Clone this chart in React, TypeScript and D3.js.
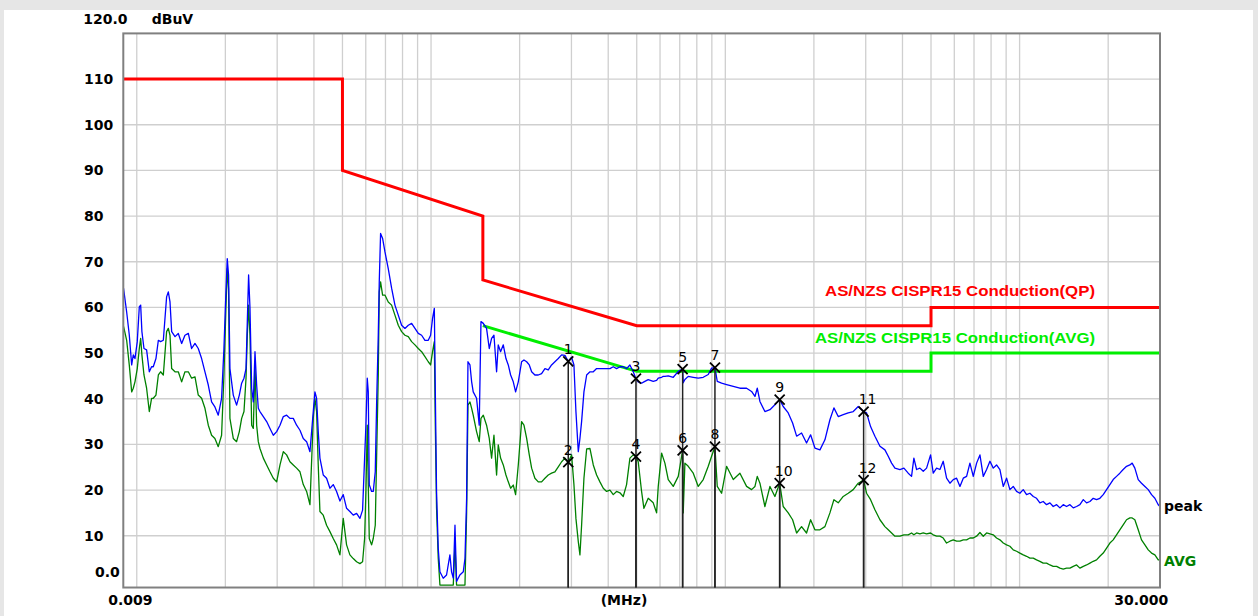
import React from "react";
import * as d3 from "d3";

// Sweep frequencies (MHz) shared by both detector traces
const FREQ: number[] = [
  0.009, 0.00905, 0.00924, 0.00943, 0.00961, 0.00973, 0.00986, 0.01004, 0.0102, 0.01031,
  0.01041, 0.01058, 0.0108, 0.01103, 0.01123, 0.01138, 0.01162, 0.01184, 0.01205, 0.01231,
  0.01263, 0.0128, 0.01297, 0.01314, 0.01349, 0.01384, 0.01421, 0.01458, 0.01497, 0.01536,
  0.01577, 0.01618, 0.01661, 0.01705, 0.0175, 0.01796, 0.01843, 0.01892, 0.01942, 0.01978,
  0.02009, 0.0203, 0.02051, 0.02073, 0.02128, 0.02184, 0.02231, 0.02272, 0.02314, 0.02351,
  0.02375, 0.02399, 0.02425, 0.02457, 0.02489, 0.02522, 0.02555, 0.02588, 0.02622, 0.02692,
  0.02763, 0.02836, 0.02911, 0.02988, 0.03067, 0.03148, 0.0323, 0.03316, 0.03403, 0.03493,
  0.03586, 0.0368, 0.03777, 0.03877, 0.03979, 0.04031, 0.04084, 0.04137, 0.04192, 0.04302,
  0.04416, 0.04533, 0.04652, 0.04775, 0.04902, 0.05031, 0.05164, 0.053, 0.05441, 0.05585,
  0.05732, 0.05853, 0.05946, 0.06008, 0.06071, 0.06119, 0.06167, 0.06281, 0.06363, 0.06463,
  0.06531, 0.06617, 0.06669, 0.06738, 0.06845,
  0.0697, 0.07155, 0.07345, 0.07539, 0.07738, 0.07943, 0.08153, 0.08369, 0.0859, 0.08818,
  0.0905, 0.09289, 0.09535, 0.09786, 0.09966, 0.1012, 0.1026, 0.1034, 0.1044, 0.1058,
  0.1072, 0.11, 0.1129, 0.1159, 0.1174, 0.119, 0.1206, 0.1221, 0.1253, 0.1287,
  0.1304, 0.1321, 0.1335, 0.1356, 0.1374, 0.1391, 0.1428, 0.1458, 0.1478, 0.1505,
  0.1544, 0.1577, 0.1606, 0.1636, 0.167, 0.1692, 0.1723, 0.176, 0.1797, 0.183,
  0.1864, 0.1903, 0.1938, 0.1979, 0.2031, 0.2069, 0.2113, 0.2157, 0.2197, 0.2254,
  0.2314, 0.2375, 0.2438, 0.2502, 0.2568, 0.2636, 0.2706, 0.2778, 0.2851, 0.2926,
  0.3003, 0.3059, 0.3107, 0.3165, 0.3206, 0.3248, 0.3308, 0.3379, 0.3468, 0.3559,
  0.3653, 0.3749, 0.3848, 0.395, 0.4054, 0.4161, 0.4271, 0.4384, 0.4499, 0.4618,
  0.474, 0.4865, 0.497, 0.5059, 0.5193, 0.5289,
  0.547, 0.569, 0.5841, 0.5917, 0.6073, 0.6153, 0.6233, 0.6398, 0.6654, 0.692,
  0.716, 0.7194, 0.7289, 0.7482, 0.7781, 0.8091, 0.8414, 0.875, 0.8982, 0.922,
  0.9389, 0.9712, 1.01, 1.064, 1.121, 1.181, 1.228, 1.261, 1.284, 1.311,
  1.363, 1.418, 1.474, 1.53, 1.573, 1.636, 1.693, 1.747, 1.816, 1.888,
  1.949, 2.016, 2.097, 2.18, 2.267, 2.339, 2.419, 2.516, 2.616, 2.721,
  2.829, 2.951, 3.02, 3.116, 3.224, 3.353, 3.486, 3.578, 3.673, 3.77,
  3.921, 4.045,
  4.183, 4.294, 4.373, 4.466, 4.584, 4.705, 4.83, 4.983, 5.088, 5.223,
  5.361, 5.502, 5.648, 5.798, 5.951, 6.108, 6.27, 6.436, 6.606, 6.78,
  6.96, 7.144, 7.332, 7.526, 7.725, 7.929, 8.139, 8.35, 8.573, 8.8,
  9.032, 9.27, 9.515, 9.766, 10.02, 10.29, 10.56, 10.84, 11.13, 11.42,
  11.72, 12.03, 12.35, 12.68, 13.01, 13.36, 13.71, 14.07, 14.44, 14.83,
  15.22, 15.62, 16.03, 16.46, 16.89, 17.34, 17.79, 18.26, 18.74, 19.24,
  19.75, 20.27, 20.8, 21.35, 21.91, 22.49, 23.09, 23.7, 24.13, 24.64,
  25.3, 25.96, 26.66, 27.36, 28.08, 28.82, 29.59, 30.0,
];

// Peak detector trace (dBuV)
const PEAK: number[] = [
  64.5, 63.4, 59.0, 54.0, 47.4, 49.6, 48.8, 52.5, 60.1, 60.5,
  54.7, 51.0, 50.7, 45.9, 47.0, 47.0, 48.8, 52.8, 52.5, 52.8,
  62.3, 63.4, 61.2, 54.7, 53.6, 54.3, 52.1, 53.9, 54.3, 51.0,
  52.1, 51.0, 48.8, 45.9, 43.0, 39.3, 38.2, 36.4, 40.1, 51.0,
  63.4, 70.7, 67.1, 46.6, 40.8, 38.6, 40.8, 43.4, 44.5, 46.6,
  56.9, 67.1, 59.9, 42.3, 39.3, 50.3, 43.0, 37.9, 37.2, 36.1,
  35.0, 33.5, 32.0, 32.8, 34.2, 36.1, 36.4, 35.7, 35.7, 34.2,
  33.1, 31.3, 30.6, 28.4, 37.2, 41.5, 40.1, 32.8, 27.0, 23.3,
  22.6, 20.4, 21.2, 19.7, 17.6, 19.0, 16.0, 15.3, 14.5, 14.9,
  13.8, 15.6, 27.0, 34.2, 44.5, 41.5, 21.2, 19.7, 19.7, 24.0,
  38.6, 53.9, 65.6, 76.2, 75.1,
  72.2, 68.5, 64.2, 60.5, 58.3, 56.1, 55.4, 56.1, 56.5, 55.4,
  54.3, 53.9, 52.8, 52.8, 53.9, 57.6, 59.8, 41.5, 19.7, 7.2,
  2.1, 0.7, 1.4, 5.8, 2.1, 0.7, 12.3, 0.0, 1.4, 2.1,
  5.0, 18.2, 48.1, 47.4, 43.7, 41.5, 40.1, 34.2, 56.9, 56.5,
  55.4, 51.0, 53.2, 53.9, 45.9, 51.8, 50.3, 51.8, 48.8, 47.4,
  45.2, 43.7, 41.5, 43.7, 48.1, 48.5, 48.1, 47.4, 45.9, 45.2,
  45.2, 45.5, 46.6, 46.3, 47.4, 48.1, 48.8, 49.6, 49.5, 48.2,
  49.1, 47.4, 37.2, 28.4, 31.3, 35.0, 41.5, 45.2, 45.9, 45.9,
  46.6, 46.6, 46.6, 46.6, 46.6, 47.0, 46.6, 47.0, 47.0, 46.6,
  47.4, 45.9, 44.4, 43.7, 43.4, 43.7,
  44.2, 43.8, 44.0, 44.5, 44.7, 44.9, 44.9, 45.0, 44.7, 46.0,
  46.5, 43.5, 44.2, 44.9, 44.7, 44.5, 44.7, 45.3, 46.7, 46.8,
  43.8, 43.4, 43.1, 42.7, 42.3, 42.3, 41.6, 40.5, 42.3, 39.4,
  37.2, 37.6, 38.7, 39.8, 38.3, 36.9, 34.7, 31.8, 32.5, 30.3,
  32.1, 29.2, 28.8, 31.0, 35.4, 38.0, 36.1, 36.5, 36.9, 37.2,
  38.3, 37.2, 36.9, 33.9, 31.8, 29.6, 28.8, 27.4, 25.9, 24.8,
  24.5, 24.8,
  23.7, 23.0, 27.0, 24.5, 24.8, 24.1, 24.8, 27.7, 23.7, 24.8,
  24.5, 26.3, 22.6, 21.5, 22.3, 22.6, 20.8, 22.6, 23.0, 25.9,
  23.0, 25.9, 27.7, 23.0, 24.5, 26.3, 24.8, 25.5, 24.5, 20.8,
  22.6, 20.1, 20.8, 19.7, 19.3, 20.1, 19.0, 19.3, 18.6, 18.2,
  17.2, 17.5, 16.8, 17.2, 16.4, 16.8, 16.1, 16.8, 16.4, 16.8,
  16.1, 16.4, 16.8, 17.9, 17.2, 17.5, 18.2, 17.9, 18.2, 19.0,
  20.1, 21.2, 22.3, 23.0, 23.7, 24.5, 25.2, 25.5, 25.9, 24.8,
  22.3, 21.5, 20.8, 20.1, 19.0, 18.2, 16.8, 16.4,
];

// Average detector trace (dBuV)
const AVG: number[] = [
  56.0, 55.4, 52.8, 47.4, 41.5, 42.3, 43.7, 46.6, 51.0, 53.2,
  49.6, 45.2, 42.3, 37.2, 40.1, 40.1, 40.8, 45.2, 45.9, 45.2,
  54.7, 55.4, 53.9, 46.6, 45.9, 45.9, 43.7, 45.9, 45.9, 44.5,
  44.8, 40.8, 40.1, 37.9, 34.2, 32.0, 31.3, 29.5, 32.0, 45.2,
  59.8, 68.5, 64.0, 35.7, 31.3, 30.6, 32.8, 35.7, 37.2, 44.5,
  53.9, 60.5, 53.9, 34.2, 33.5, 47.4, 34.2, 30.6, 29.1, 27.0,
  25.5, 24.0, 22.6, 21.8, 25.5, 28.4, 27.7, 26.2, 25.5, 24.8,
  24.0, 21.2, 19.7, 16.8, 35.7, 40.1, 37.2, 25.5, 15.3, 14.5,
  12.3, 10.9, 9.4, 8.0, 5.8, 13.8, 8.0, 5.8, 5.0, 4.3,
  3.9, 4.3, 9.4, 19.7, 34.2, 21.2, 9.4, 8.0, 9.4, 12.3,
  27.0, 45.2, 63.4, 65.6, 62.7,
  62.7, 61.2, 60.5, 58.3, 56.1, 54.7, 53.9, 53.6, 52.5, 51.8,
  51.0, 50.3, 49.2, 48.1, 47.4, 50.3, 52.5, 34.2, 16.0, 5.0,
  -0.8, -0.8, -0.8, -0.8, -0.8, -0.8, 8.0, -0.8, -0.8, -0.8,
  -0.8, 15.0, 38.6, 39.3, 37.9, 36.4, 32.8, 30.6, 35.7, 36.4,
  34.2, 31.3, 27.0, 32.0, 23.3, 29.9, 27.0, 25.5, 23.3, 21.8,
  20.4, 21.1, 19.0, 25.5, 35.0, 34.2, 31.3, 27.7, 24.8, 22.6,
  21.8, 21.8, 22.6, 23.3, 23.7, 24.0, 25.1, 26.2, 27.0, 26.1,
  27.7, 21.2, 13.8, 8.7, 5.8, 12.3, 22.6, 29.0, 29.1, 25.5,
  23.3, 21.8, 20.4, 19.7, 20.0, 19.0, 19.7, 19.4, 18.6, 21.2,
  27.0, 27.7, 27.3, 26.2, 19.7, 16.0,
  18.2, 17.2, 15.0, 20.8, 28.1, 27.0, 25.9, 22.3, 20.8, 23.0,
  28.7, 15.0, 25.9, 25.2, 23.7, 20.8, 22.3, 25.2, 27.4, 29.5,
  20.8, 19.3, 25.2, 22.3, 23.7, 20.8, 20.1, 20.8, 23.0, 21.5,
  16.4, 20.8, 18.6, 21.5, 16.4, 15.0, 13.5, 10.6, 12.0, 10.6,
  13.5, 11.3, 11.3, 12.0, 15.0, 17.9, 17.2, 18.6, 19.3, 20.1,
  21.5, 22.2, 19.3, 17.9, 15.7, 13.5, 12.0, 11.3, 10.6, 9.9,
  9.9, 10.2,
  10.2, 10.6, 10.2, 10.6, 10.4, 10.6, 10.4, 10.6, 10.2, 9.9,
  9.9, 9.5, 8.4, 8.8, 9.1, 8.8, 8.8, 9.1, 9.1, 9.5,
  9.5, 9.9, 10.7, 9.9, 10.6, 10.4, 10.2, 9.5, 9.1, 8.4,
  8.0, 7.7, 6.9, 6.6, 6.2, 5.8, 5.5, 5.1, 5.1, 4.7,
  4.4, 4.0, 4.0, 3.6, 3.3, 3.3, 2.9, 2.7, 2.9, 2.9,
  3.3, 3.6, 2.9, 3.3, 3.6, 4.0, 4.4, 4.7, 5.5, 6.2,
  7.3, 8.4, 9.1, 10.2, 11.3, 12.4, 13.5, 13.9, 13.9, 13.5,
  11.3, 9.1, 8.0, 6.9, 6.2, 5.8, 4.7, 4.7,
];

// AS/NZS CISPR15 conducted limits: [MHz, dBuV] breakpoints (straight in log f)
const LIMIT_QP: [number, number][] = [
  [0.009, 110], [0.05, 110], [0.05, 90], [0.15, 80], [0.15, 66],
  [0.5, 56], [5, 56], [5, 60], [30, 60],
];
const LIMIT_AVG: [number, number][] = [
  [0.15, 56], [0.5, 46], [5, 46], [5, 50], [30, 50],
];

// Marker table: [label, MHz, dBuV]
const MARKERS: [string, number, number][] = [
  ["1", 0.2926, 48.2], ["2", 0.2926, 26.1],
  ["3", 0.497, 44.4], ["4", 0.497, 27.3],
  ["5", 0.716, 46.5], ["6", 0.716, 28.7],
  ["7", 0.922, 46.8], ["8", 0.922, 29.5],
  ["9", 1.53, 39.8], ["10", 1.53, 21.5],
  ["11", 2.951, 37.2], ["12", 2.951, 22.2],
];

const Y_GRID: number[] = [10, 20, 30, 40, 50, 60, 70, 80, 90, 100, 110];
const Y_LABELS: string[] = ["10", "20", "30", "40", "50", "60", "70", "80", "90", "100", "110"];

const W = 1258;
const H = 616;
const LEFT = 123.3;
const RIGHT = 1160;

const x = d3.scaleLog().domain([0.009, 30]).range([LEFT, RIGHT]);
const y = d3.scaleLinear().domain([0, 120]).range([581.4, 33.4]);
const TOP = y(120);
const BOTTOM = y(-1.34);

const AXIS_FONT = "'DejaVu Sans', Verdana, sans-serif";

export default function App() {
  const trace = d3
    .line<number>()
    .x((_, i) => x(FREQ[i]))
    .y((d) => y(d));
  const limit = d3
    .line<[number, number]>()
    .x((d) => x(d[0]))
    .y((d) => y(d[1]));

  const vTicks = x.ticks().filter((t) => t > 0.0091 && t < 29.9);

  return (
    <svg
      width={W}
      height={H}
      style={{ position: "absolute", left: 0, top: 0, display: "block" }}
    >
      <defs>
        <clipPath id="plot-area">
          <rect x={LEFT} y={TOP} width={RIGHT - LEFT} height={BOTTOM - TOP} />
        </clipPath>
      </defs>
      <rect x={0} y={0} width={W} height={H} fill="#e6e6e6" />
      <rect x={4} y={10} width={1249} height={H - 10} fill="#ffffff" />

      {/* grid */}
      <g stroke="#cfcfcf" strokeWidth={1.3}>
        {vTicks.map((t) => (
          <line key={"v" + t} x1={x(t)} x2={x(t)} y1={TOP} y2={BOTTOM} />
        ))}
        {Y_GRID.map((v) => (
          <line key={"h" + v} x1={LEFT} x2={RIGHT} y1={y(v)} y2={y(v)} />
        ))}
      </g>

      {/* limit lines */}
      <g clipPath="url(#plot-area)" fill="none" strokeWidth={3}>
        <path d={limit(LIMIT_QP) || ""} stroke="#ff0000" />
        <path d={limit(LIMIT_AVG) || ""} stroke="#00ee00" />
      </g>

      {/* measured traces */}
      <g clipPath="url(#plot-area)" fill="none" strokeWidth={1.3} strokeLinejoin="round">
        <path d={trace(AVG) || ""} stroke="#008000" />
        <path d={trace(PEAK) || ""} stroke="#0000ff" />
      </g>

      {/* frame */}
      <rect
        x={LEFT}
        y={TOP}
        width={RIGHT - LEFT}
        height={BOTTOM - TOP}
        fill="none"
        stroke="#808080"
        strokeWidth={2}
      />

      {/* markers */}
      <g>
        {MARKERS.map(([label, f, v]) => {
          const mx = x(f);
          const my = y(v);
          return (
            <g key={label}>
              <line x1={mx} x2={mx} y1={my} y2={BOTTOM} stroke="#222" strokeWidth={1.5} />
              <path
                d={`M${mx - 5},${my - 5}L${mx + 5},${my + 5}M${mx - 5},${my + 5}L${mx + 5},${my - 5}`}
                stroke="#000"
                strokeWidth={1.8}
              />
              <text
                x={label.length > 1 ? mx + 4 : mx}
                y={my - 7.5}
                textAnchor="middle"
                fontFamily={AXIS_FONT}
                fontSize={14}
                fill="#000"
              >
                {label}
              </text>
            </g>
          );
        })}
      </g>

      {/* axis text */}
      <g fontFamily={AXIS_FONT} fontWeight="bold" fontSize={14} fill="#000">
        <text x={83.3} y={24}>120.0</text>
        <text x={151.7} y={24}>dBuV</text>
        {Y_GRID.map((v, i) => (
          <text key={"yl" + v} x={84} y={y(v) + 5}>
            {Y_LABELS[i]}
          </text>
        ))}
        <text x={95} y={576.7}>0.0</text>
        <text x={108.3} y={605}>0.009</text>
        <text x={624} y={605} textAnchor="middle">(MHz)</text>
        <text x={1168.3} y={605} textAnchor="end">30.000</text>
        <text x={1164} y={511}>peak</text>
        <text x={1164} y={566} fill="#008000">AVG</text>
      </g>

      {/* limit captions */}
      <g fontFamily="'Liberation Sans', Arial, sans-serif" fontWeight="bold" fontSize={14}>
        <text x={825} y={296} fill="#ff0000" textLength={270} lengthAdjust="spacingAndGlyphs">
          AS/NZS CISPR15 Conduction(QP)
        </text>
        <text x={815} y={342.5} fill="#00ee00" textLength={280} lengthAdjust="spacingAndGlyphs">
          AS/NZS CISPR15 Conduction(AVG)
        </text>
      </g>
    </svg>
  );
}
